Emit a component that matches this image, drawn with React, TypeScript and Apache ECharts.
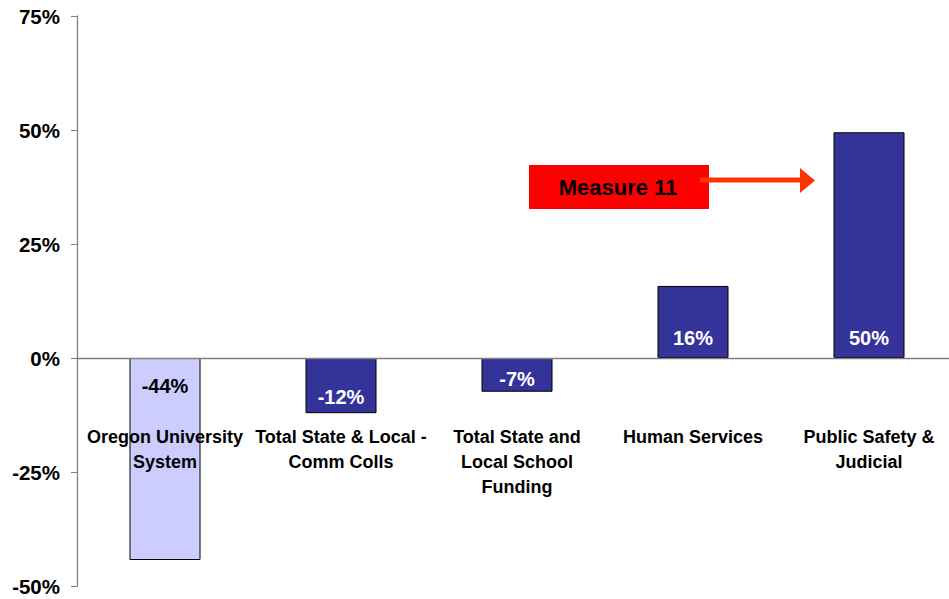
import React, { useEffect, useRef } from "react";
import * as echarts from "echarts";

const categories = [
  "Oregon University\nSystem",
  "Total State & Local -\nComm Colls",
  "Total State and\nLocal School\nFunding",
  "Human Services",
  "Public Safety &\nJudicial",
];
const values = [-44.3, -12.1, -7.4, 15.8, 49.5];
const barColors = ["#ccccff", "#333399", "#333399", "#333399", "#333399"];
const labelColors = ["#000000", "#ffffff", "#ffffff", "#ffffff", "#ffffff"];
const labelOffsets = [28, 39, 21, -20, -20];
const yTicks = { min: -50, max: 75, interval: 25 };
const annotationText = "Measure 11";

const FONT = "Liberation Sans, Arial, sans-serif";

export default function App() {
  const ref = useRef<HTMLDivElement>(null);
  useEffect(() => {
    if (!ref.current) return;
    const chart = echarts.init(ref.current, undefined, { renderer: "svg" });
    chart.setOption({
      animation: false,
      backgroundColor: "#ffffff",
      textStyle: { fontFamily: FONT },
      grid: {
        left: 77,
        right: -8,
        top: 16,
        bottom: 13,
        containLabel: false,
        outerBoundsMode: "none",
      },
      xAxis: {
        type: "category",
        data: categories,
        axisLine: { onZero: true, lineStyle: { color: "#808080", width: 1.3 } },
        axisTick: { show: false },
        axisLabel: {
          interval: 0,
          margin: -161.5,
          fontSize: 18,
          fontWeight: "bold",
          color: "#000",
          lineHeight: 25,
          fontFamily: FONT,
        },
        z: 6,
      },
      yAxis: {
        type: "value",
        min: yTicks.min,
        max: yTicks.max,
        interval: yTicks.interval,
        splitLine: { show: false },
        axisLine: { show: true, lineStyle: { color: "#808080", width: 1.3 } },
        axisTick: { show: true, length: 6, lineStyle: { color: "#808080" } },
        axisLabel: {
          formatter: "{value}%",
          fontSize: 20.5,
          fontWeight: "bold",
          color: "#000",
          margin: 17,
          fontFamily: FONT,
        },
      },
      series: [
        {
          type: "bar",
          barWidth: 71,
          data: values.map((v, i) => ({
            value: v,
            itemStyle: { color: barColors[i], borderColor: "#000", borderWidth: 1 },
          })),
          z: 2,
        },
        {
          type: "scatter",
          symbolSize: 1,
          itemStyle: { color: "rgba(0,0,0,0)" },
          silent: true,
          z: 5,
          data: values.map((v, i) => ({
            value: [i, 0],
            label: {
              show: true,
              position: "inside",
              offset: [0, labelOffsets[i]],
              formatter: Math.round(v) + "%",
              color: labelColors[i],
              textBorderWidth: 0,
              opacity: 1,
              fontSize: 20,
              fontWeight: "bold",
              fontFamily: FONT,
            },
          })),
        },
      ],
      graphic: [
        {
          type: "rect",
          shape: { x: 529, y: 165, width: 180, height: 44 },
          style: { fill: "#ff0000" },
          z: 10,
        },
        {
          type: "text",
          x: 618,
          y: 187,
          style: {
            text: annotationText,
            fill: "#000",
            font: "bold 22px " + FONT,
            align: "center",
            verticalAlign: "middle",
          },
          z: 11,
        },
        {
          type: "line",
          shape: { x1: 700, y1: 180, x2: 802, y2: 180 },
          style: { stroke: "#ff3300", lineWidth: 5 },
          z: 11,
        },
        {
          type: "polygon",
          shape: { points: [[800, 168], [815, 180.5], [800, 193]] },
          style: { fill: "#ff3300" },
          z: 11,
        },
      ],
    });
    return () => chart.dispose();
  }, []);
  return (
    <div
      ref={ref}
      style={{ position: "absolute", left: 0, top: 0, width: 949, height: 599 }}
    />
  );
}
